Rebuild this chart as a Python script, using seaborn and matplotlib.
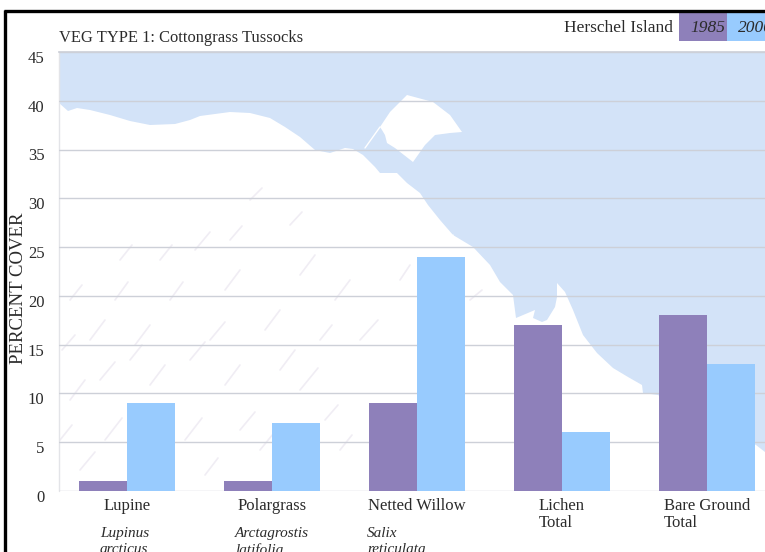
import matplotlib
matplotlib.use("Agg")
import matplotlib.pyplot as plt
from matplotlib.patches import Polygon, Rectangle
from matplotlib.transforms import ScaledTranslation
import pandas as pd
import seaborn as sns

species = ["Lupine", "Polargrass", "Netted Willow", "Lichen\nTotal", "Bare Ground\nTotal"]
latin_names = ["Lupinus\narcticus", "Arctagrostis\nlatifolia", "Salix\nreticulata"]
years = ["1985", "2000"]
cover_1985 = [1, 1, 9, 17, 18]
cover_2000 = [9, 7, 24, 6, 13]
y_ticks = [0, 5, 10, 15, 20, 25, 30, 35, 40, 45]

df = pd.DataFrame({
    "species": species * 2,
    "year": [years[0]] * 5 + [years[1]] * 5,
    "cover": cover_1985 + cover_2000,
})

PURPLE = "#8e80ba"
BLUE = "#98cbfe"
SEA = "#d3e3f8"
TEXT = "#2b2b2b"
GRID = "#cdd0d8"

sns.set_theme(style="white")
plt.rcParams["font.family"] = ["Liberation Serif", "DejaVu Serif"]
plt.rcParams["text.color"] = TEXT

fig = plt.figure(figsize=(7.65, 5.52), dpi=100, facecolor="white")

# map behind the chart, this axes works in image pixels
bg = fig.add_axes([0, 0, 1, 1], zorder=0)
bg.set_xlim(0, 765)
bg.set_ylim(552, 0)
bg.axis("off")

coast = [(59, 52), (765, 52), (765, 452), (756, 445), (700, 420), (658, 395), (643, 393),
         (642, 385), (628, 377), (613, 368), (597, 353), (583, 335), (573, 310), (565, 292),
         (557, 283), (557, 297), (555, 307), (547, 320), (542, 322), (533, 318), (535, 310),
         (516, 318), (513, 295), (500, 282), (490, 265), (473, 247), (453, 235), (440, 220),
         (428, 205), (420, 193), (407, 183), (397, 173), (380, 173), (375, 167), (363, 155),
         (353, 149), (345, 148), (330, 153), (315, 150), (300, 137), (285, 127), (270, 118),
         (250, 113), (230, 112), (200, 116), (190, 120), (175, 124), (150, 125), (130, 121),
         (110, 115), (90, 110), (77, 108), (68, 111), (59, 103)]
bg.add_patch(Polygon(coast, closed=True, facecolor=SEA, edgecolor="none"))
island = [(380, 127), (390, 112), (407, 95), (433, 102), (450, 115), (462, 132), (450, 133),
          (435, 135), (425, 145), (413, 162), (395, 148), (387, 143), (385, 135), (382, 130)]
bg.add_patch(Polygon(island, closed=True, facecolor="white", edgecolor="none"))
bg.plot([365, 380], [148, 127], color="white", lw=1)
bg.plot([447, 453], [255, 235], color="white", lw=1)

# faint relief on the land
relief = [(70, 300, 82, 285), (90, 340, 105, 320), (115, 300, 128, 282), (135, 345, 150, 325),
          (170, 300, 183, 282), (195, 250, 210, 232), (225, 290, 240, 270), (250, 200, 262, 188),
          (265, 330, 280, 310), (300, 275, 315, 255), (70, 400, 85, 380), (105, 440, 122, 418),
          (150, 385, 165, 365), (185, 440, 202, 418), (225, 385, 240, 365), (260, 450, 278, 428),
          (300, 390, 318, 368), (340, 450, 352, 435), (80, 470, 95, 452), (130, 478, 148, 458),
          (205, 475, 218, 458), (335, 300, 350, 280), (360, 340, 378, 320), (400, 280, 410, 265),
          (62, 350, 75, 335), (160, 260, 172, 245), (290, 225, 302, 212), (60, 440, 72, 425),
          (130, 360, 142, 345), (210, 340, 225, 322), (325, 420, 338, 405), (470, 300, 482, 290),
          (150, 450, 165, 432), (240, 430, 255, 412), (100, 380, 115, 362), (280, 370, 295, 350),
          (190, 360, 205, 342), (320, 340, 332, 325), (120, 260, 132, 245), (230, 240, 242, 226)]
for x0, y0, x1, y1 in relief:
    bg.plot([x0, x1], [y0, y1], color="#f0edf4", lw=1.2, solid_capstyle="round")
bg.plot([59, 59], [52, 491], color="#e3e4e8", lw=1)

# frame and year key
bg.plot([5.5, 5.5], [10, 552], color="black", lw=2.4, solid_capstyle="butt")
bg.plot([4, 765], [10.5, 10.5], color="black", lw=2.4, solid_capstyle="butt")
bg.add_patch(Rectangle((679, 13), 48, 28, facecolor=PURPLE, edgecolor="none"))
bg.add_patch(Rectangle((727, 13), 38, 28, facecolor=BLUE, edgecolor="none"))
bg.text(673, 28.5, "Herschel Island", ha="right", va="center", fontsize=12.5)
bg.text(707.5, 28, years[0], ha="center", va="center", fontsize=12.5, style="italic")
bg.text(738, 28, years[1], ha="left", va="center", fontsize=12.5, style="italic")

for x, name in zip([100, 235, 367], latin_names):
    bg.text(x, 527, name, ha="left", va="top", fontsize=11, style="italic", linespacing=1.3)

# chart
ax = fig.add_axes([59 / 765, 61 / 552, 706 / 765, 439 / 552], zorder=1)
ax.patch.set_alpha(0)
sns.barplot(data=df, x="species", y="cover", hue="year", palette=[PURPLE, BLUE],
            width=0.662, gap=0, saturation=1, legend=False, linewidth=0, ax=ax)
ax.set_xlim(-0.469, 4.4)
ax.set_ylim(0, 45)
ax.set_yticks(y_ticks)
ax.set_axisbelow(True)
ax.grid(axis="y", color=GRID, lw=1)
ax.grid(axis="x", visible=False)
sns.despine(ax=ax, left=True, bottom=True)
ax.spines["top"].set_visible(True)
ax.spines["top"].set_color(GRID)

ax.tick_params(axis="y", length=9, width=1, color=GRID, pad=1.5, labelsize=12, labelcolor=TEXT)
ax.tick_params(axis="x", length=0, pad=5, labelsize=12, labelcolor=TEXT)
shift = ScaledTranslation(0, -3.5 / 72, fig.dpi_scale_trans)
for lab in ax.get_yticklabels():
    lab.set_transform(lab.get_transform() + shift)
for lab in ax.get_xticklabels():
    lab.set_multialignment("left")
    lab.set_linespacing(1.1)

ax.set_xlabel("")
ax.set_ylabel("PERCENT COVER", fontsize=13.5, color=TEXT)
ax.yaxis.set_label_coords((27 - 59) / 706, (491 - 288) / 439)
ax.set_title("VEG TYPE 1: Cottongrass Tussocks", loc="left", pad=7.5, fontsize=11.9, color=TEXT)

fig.savefig("out.png", dpi=100)
